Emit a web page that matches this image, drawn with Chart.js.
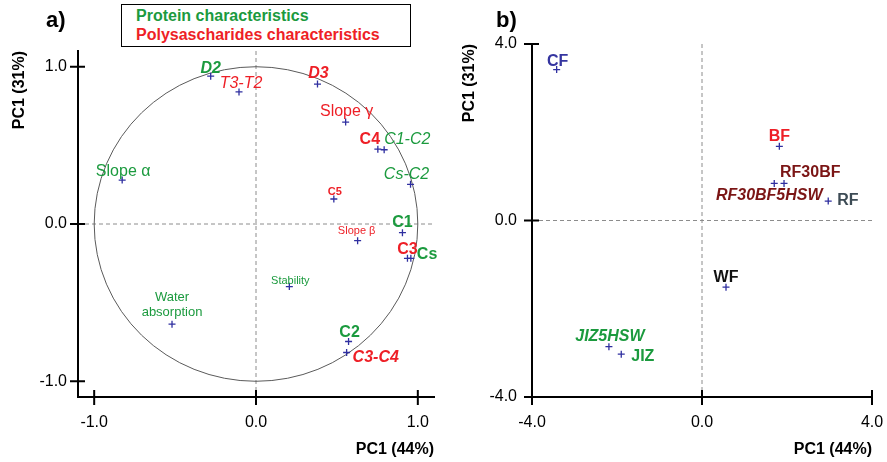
<!DOCTYPE html>
<html>
<head>
<meta charset="utf-8">
<script src="https://cdn.jsdelivr.net/npm/chart.js@4.4.1/dist/chart.umd.min.js"></script>
<style>
  body { margin: 0; width: 887px; height: 462px; background: #fff; position: relative; overflow: hidden;
         font-family: "Liberation Sans", Arial, sans-serif; }
  .panel { position: absolute; top: 0; height: 462px; }
  .tag { position: absolute; font-weight: bold; font-size: 22px; line-height: 24px; top: 8px; }
  #legend { position: absolute; left: 121px; top: 4px; width: 274px; height: 40px; border: 1px solid #000;
            font-weight: bold; font-size: 16px; line-height: 19px; padding: 1px 0 0 14px; box-sizing: content-box; background: #fff; }
</style>
</head>
<body>
<div class="panel" style="left:0;width:450px"><canvas id="chartA" width="450" height="462"></canvas></div>
<div class="panel" style="left:450px;width:437px"><canvas id="chartB" width="437" height="462"></canvas></div>
<div class="tag" style="left:46px">a)</div>
<div class="tag" style="left:496px">b)</div>
<div id="legend">
  <div style="color:#1b9a3e">Protein characteristics</div>
  <div style="color:#ee1f26">Polysascharides characteristics</div>
</div>
<script>
// panel a) loadings
const loadNames = ['D2', 'T3-T2', 'D3', 'Slope γ', 'C4', 'C1-C2', 'Cs-C2', 'Slope α', 'C5', 'C1',
                   'Slope β', 'C3', 'Cs', 'Stability', 'Water\nabsorption', 'C2', 'C3-C4'];
const loadX = [-0.28, -0.105, 0.38, 0.554, 0.753, 0.792, 0.955, -0.827, 0.481, 0.905,
               0.628, 0.936, 0.957, 0.206, -0.519, 0.572, 0.560];
const loadY = [0.94, 0.84, 0.89, 0.648, 0.476, 0.472, 0.252, 0.279, 0.159, -0.055,
               -0.106, -0.218, -0.218, -0.398, -0.637, -0.747, -0.817];
const loadTicks = [-1, 0, 1];

// panel b) scores
const scoreNames = ['CF', 'BF', 'RF30BF', 'RF30BF5HSW', 'RF', 'WF', 'JIZ5HSW', 'JIZ'];
const scoreX = [-3.42, 1.82, 1.93, 1.70, 2.97, 0.565, -2.19, -1.90];
const scoreY = [3.42, 1.68, 0.84, 0.84, 0.44, -1.51, -2.86, -3.03];
const scoreTicks = [-4, 0, 4];

const G = '#1b9a3e', R = '#ee1f26', DR = '#7b1515';
// label look: [dx, dy, align, font, colour]
const loadStyle = [
  [0, -8, 'center', 'bold italic 16px', G],
  [2, -8, 'center', 'italic 16px', R],
  [1, -10, 'center', 'bold italic 16px', R],
  [1, -10, 'center', '16px', R],
  [-8, -10, 'center', 'bold 16px', R],
  [0, -10, 'left', 'italic 16px', G],
  [-4, -10, 'center', 'italic 16px', G],
  [1, -9, 'center', '16px', G],
  [1, -7, 'center', 'bold 11px', R],
  [0, -10, 'center', 'bold 16px', G],
  [-1, -10, 'center', '11px', R],
  [0, -9, 'center', 'bold 16px', R],
  [6, -4, 'left', 'bold 16px', G],
  [1, -6, 'center', '11px', G],
  [0, -27, 'center', '13px', G],
  [1, -9, 'center', 'bold 16px', G],
  [6, 5, 'left', 'bold italic 16px', R]
];
const scoreStyle = [
  [1, -8, 'center', 'bold 16px', '#3535a0'],
  [0, -10, 'center', 'bold 16px', R],
  [-4, -11, 'left', 'bold 16px', DR],
  [-5, 12, 'center', 'bold italic 16px', DR],
  [9, 0, 'left', 'bold 16px', '#3d4b55'],
  [0, -10, 'center', 'bold 16px', '#111'],
  [1, -10, 'center', 'bold italic 16px', G],
  [10, 2, 'left', 'bold 16px', G]
];

Chart.defaults.font.family = '"Liberation Sans", Arial, sans-serif';
Chart.defaults.color = '#000';

const pcaPlugin = {
  id: 'pca',
  beforeDatasetsDraw(chart, args, opts) {
    const { ctx, chartArea: a, scales: { x, y } } = chart;
    const x0 = x.getPixelForValue(0), y0 = y.getPixelForValue(0);
    ctx.save();
    ctx.strokeStyle = '#8c8c8c';
    ctx.lineWidth = 1;
    ctx.setLineDash([4, 3]);
    ctx.beginPath();
    ctx.moveTo(a.left, y0); ctx.lineTo(a.right, y0);
    ctx.moveTo(x0, a.top); ctx.lineTo(x0, a.bottom);
    ctx.stroke();
    ctx.setLineDash([]);
    if (opts.circle) {
      ctx.strokeStyle = '#5a5a5a';
      ctx.beginPath();
      ctx.ellipse(x0, y0, x.getPixelForValue(1) - x0, y0 - y.getPixelForValue(1), 0, 0, Math.PI * 2);
      ctx.stroke();
    }
    ctx.restore();
  },
  afterDatasetsDraw(chart, args, opts) {
    const { ctx } = chart;
    const meta = chart.getDatasetMeta(0);
    ctx.save();
    ctx.textBaseline = 'middle';
    meta.data.forEach((pt, i) => {
      const [dx, dy, align, font, color] = opts.styles[i];
      const size = parseInt(font.match(/(\d+)px/)[1]);
      ctx.font = font + ' "Liberation Sans", Arial, sans-serif';
      ctx.fillStyle = color;
      ctx.textAlign = align;
      opts.names[i].split('\n').forEach((line, k) => {
        ctx.fillText(line, pt.x + dx, pt.y + dy + k * (size + 2));
      });
    });
    ctx.restore();
  },
  afterDraw(chart) {
    const { ctx, chartArea: a, scales: { x, y } } = chart;
    ctx.save();
    ctx.strokeStyle = '#000';
    ctx.lineWidth = 2;
    ctx.beginPath();
    x.ticks.forEach(t => {
      const px = x.getPixelForValue(t.value);
      ctx.moveTo(px, a.bottom - 7); ctx.lineTo(px, a.bottom + 8);
    });
    y.ticks.forEach(t => {
      const py = y.getPixelForValue(t.value);
      ctx.moveTo(a.left - 8, py); ctx.lineTo(a.left + 7, py);
    });
    ctx.stroke();
    ctx.restore();
  }
};

function makeChart(id, xs, ys, names, styles, lim, ticks, pad, yWidth, yPad, circle) {
  const fixTicks = s => { s.ticks = ticks.map(v => ({ value: v })); };
  return new Chart(document.getElementById(id), {
    type: 'scatter',
    data: {
      datasets: [{
        data: xs.map((v, i) => ({ x: v, y: ys[i] })),
        pointStyle: 'cross',
        pointRadius: 3.5,
        pointHoverRadius: 3.5,
        borderColor: '#2f2fa0',
        borderWidth: 1.3
      }]
    },
    options: {
      responsive: false,
      animation: false,
      devicePixelRatio: 1,
      layout: { padding: pad },
      plugins: {
        legend: { display: false },
        tooltip: { enabled: false },
        pca: { names: names, styles: styles, circle: circle }
      },
      scales: {
        x: {
          type: 'linear', min: -lim, max: lim,
          afterBuildTicks: fixTicks,
          afterFit: s => { s.height = 65; s.paddingLeft = 0; s.paddingRight = 0; },
          grid: { display: false, drawTicks: false },
          border: { display: true, color: '#000', width: 2 },
          ticks: { padding: 16, font: { size: 16 }, callback: v => v.toFixed(1) },
          title: { display: true, text: 'PC1 (44%)', align: 'end', font: { size: 16, weight: 'bold' },
                   padding: { top: 0, bottom: 3 } }
        },
        y: {
          type: 'linear', min: -lim, max: lim,
          afterBuildTicks: fixTicks,
          afterFit: s => { s.width = yWidth; s.paddingTop = 0; s.paddingBottom = 0; },
          grid: { display: false, drawTicks: false },
          border: { display: true, color: '#000', width: 2 },
          ticks: { padding: yPad, font: { size: 16 }, callback: v => v.toFixed(1) },
          title: { display: true, text: 'PC1 (31%)', align: 'end', font: { size: 16, weight: 'bold' },
                   padding: { top: 10, bottom: 0 } }
        }
      }
    },
    plugins: [pcaPlugin]
  });
}

makeChart('chartA', loadX, loadY, loadNames, loadStyle, 1.1, loadTicks,
          { left: 0, top: 51, right: 16, bottom: 0 }, 78, 11, true);
makeChart('chartB', scoreX, scoreY, scoreNames, scoreStyle, 4, scoreTicks,
          { left: 0, top: 44, right: 15, bottom: 0 }, 82, 15, false);
</script>
</body>
</html>
